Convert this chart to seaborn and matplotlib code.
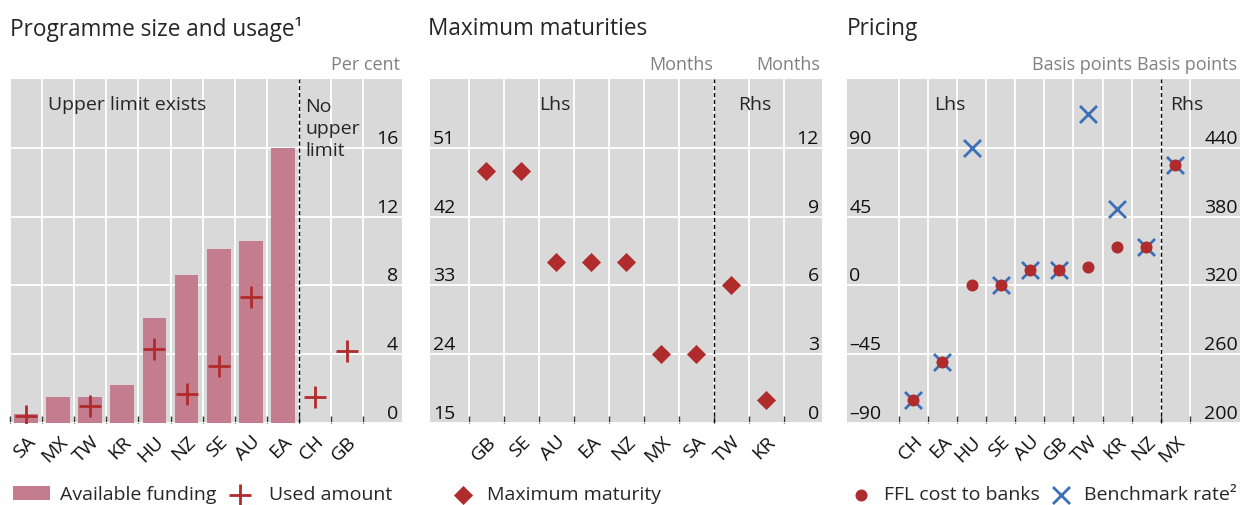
import numpy as np
import pandas as pd
import matplotlib.pyplot as plt
import seaborn as sns

# Programme size and usage, per cent
size_countries = ["SA", "MX", "TW", "KR", "HU", "NZ", "SE", "AU", "EA", "CH", "GB"]
available_funding = [0.5, 1.5, 1.5, 2.2, 6.1, 8.6, 10.1, 10.6, 16.0, np.nan, np.nan]
used_amount = [0.4, np.nan, 1.0, np.nan, 4.3, 1.7, 3.3, 7.3, np.nan, 1.5, 4.2]

# Maximum maturities, months (TW and KR on the right-hand scale)
maturity_countries = ["GB", "SE", "AU", "EA", "NZ", "MX", "SA", "TW", "KR"]
maturity_lhs = [48, 48, 36, 36, 36, 24, 24, np.nan, np.nan]
maturity_rhs = [np.nan, np.nan, np.nan, np.nan, np.nan, np.nan, np.nan, 6, 1]

# Pricing, basis points (MX on the right-hand scale)
pricing_countries = ["CH", "EA", "HU", "SE", "AU", "GB", "TW", "KR", "NZ", "MX"]
ffl_cost_lhs = [-75, -50, 0, 0, 10, 10, 12, 25, 25, np.nan]
benchmark_lhs = [-75, -50, 90, 0, 10, 10, 112, 50, 25, np.nan]
ffl_cost_rhs = [np.nan, np.nan, np.nan, np.nan, np.nan, np.nan, np.nan, np.nan, np.nan, 425]
benchmark_rhs = [np.nan, np.nan, np.nan, np.nan, np.nan, np.nan, np.nan, np.nan, np.nan, 425]

size_ticks = [0, 4, 8, 12, 16]
maturity_lhs_ticks = [15, 24, 33, 42, 51]
maturity_rhs_ticks = [0, 3, 6, 9, 12]
pricing_lhs_ticks = [-90, -45, 0, 45, 90]
pricing_rhs_ticks = [200, 260, 320, 380, 440]

BAR = "#c47d8e"
RED = "#b02c2c"
BLUE = "#3c6fb6"
GREY_BG = "#d9d9d9"
UNIT = "#808080"
FS = 14
TITLE_FS = 16.3
TITLE_Y = 1.145
LEG_Y = -0.209

sns.set_theme(style="darkgrid", rc={"axes.facecolor": GREY_BG})
plt.rcParams["font.family"] = ["Open Sans", "DejaVu Sans"]

fig = plt.figure(figsize=(12.52, 5.05), dpi=100)
H = 344 / 505
B = 1 - 423 / 505
ax1 = fig.add_axes([10 / 1252, B, 392 / 1252, H])
ax2 = fig.add_axes([430 / 1252, B, 392 / 1252, H])
ax3 = fig.add_axes([847 / 1252, B, 393 / 1252, H])


def style_axis(ax, names, xlim, ylim, yticks):
    n = len(names)
    ax.set_xlim(*xlim)
    ax.set_ylim(*ylim)
    ax.grid(False)
    ax.set_xticks(range(n))
    ax.set_xticklabels(names, rotation=45, ha="right", rotation_mode="anchor",
                       fontsize=FS, color="#111111")
    ax.set_xticks(np.arange(-0.5, n), minor=True)
    ax.set_yticks(yticks)
    ax.tick_params(axis="x", which="major", length=0, pad=7)
    ax.tick_params(axis="x", which="minor", direction="in", length=5,
                   width=1, color="#333333", bottom=True)
    ax.tick_params(axis="y", length=0, labelleft=False)
    ax.grid(True, which="minor", axis="x", color="white", lw=1.3)
    ax.grid(True, which="major", axis="y", color="white", lw=1.3)
    ax.set_xlabel("")
    ax.set_ylabel("")
    for s in ax.spines.values():
        s.set_visible(False)


def tick_texts(ax, values, x, ha):
    tr = ax.get_yaxis_transform()
    for v in values:
        lab = str(v).replace("-", "\u2013")
        ax.text(x, v, lab, transform=tr, ha=ha, va="bottom", fontsize=FS,
                color="#111111")


def clean_twin(ax, ylim):
    ax.set_ylim(*ylim)
    ax.grid(False)
    ax.set_yticks([])
    ax.set_ylabel("")
    for s in ax.spines.values():
        s.set_visible(False)


# ---- Panel 1
pos1 = np.arange(len(size_countries))
df1 = pd.DataFrame({"x": pos1, "available": available_funding, "used": used_amount})
bars = df1.dropna(subset=["available"])
sns.barplot(data=bars, x="x", y="available", native_scale=True, color=BAR,
            saturation=1, width=0.74, errorbar=None, label="Available funding",
            linewidth=0, edgecolor=BAR, ax=ax1, zorder=2)
sns.scatterplot(data=df1, x="x", y="used", marker="+", s=260, color=RED,
                linewidth=2, label="Used amount", ax=ax1, zorder=3)
style_axis(ax1, size_countries, (-0.5, 11.71), (0, 20), size_ticks)
ax1.axvline(8.5, color="black", ls=(0, (3, 2)), lw=1, zorder=4)
tick_texts(ax1, size_ticks, 0.99, "right")
ax1.text(0.097, 0.924, "Upper limit exists", transform=ax1.transAxes,
         fontsize=FS, va="center")
ax1.text(0.753, 0.946, "No\nupper\nlimit", transform=ax1.transAxes,
         fontsize=FS, va="top", linespacing=1.3)
ax1.text(0.995, 1.015, "Per cent", transform=ax1.transAxes, ha="right",
         va="bottom", fontsize=13, color=UNIT)
ax1.text(0, TITLE_Y, "Programme size and usage\u00b9", transform=ax1.transAxes,
         fontsize=TITLE_FS, va="center", ha="left")
h, l = ax1.get_legend_handles_labels()
order = [l.index("Available funding"), l.index("Used amount")]
ax1.legend([h[i] for i in order], [l[i] for i in order], loc="center left",
           bbox_to_anchor=(0.008, LEG_Y), ncol=2, frameon=False, fontsize=FS,
           handlelength=1.9, handletextpad=0.5, columnspacing=0.3,
           borderpad=0, borderaxespad=0)

# ---- Panel 2
pos2 = np.arange(len(maturity_countries))
df2 = pd.DataFrame({"x": pos2, "lhs": maturity_lhs, "rhs": maturity_rhs})
ax2r = ax2.twinx()
sns.scatterplot(data=df2, x="x", y="lhs", marker="D", s=95, color=RED,
                edgecolor=RED, linewidth=0, label="Maximum maturity", ax=ax2,
                zorder=3)
sns.scatterplot(data=df2, x="x", y="rhs", marker="D", s=95, color=RED,
                edgecolor=RED, linewidth=0, legend=False, ax=ax2r, zorder=3)
style_axis(ax2, maturity_countries, (-1.61, 9.6), (15, 60), maturity_lhs_ticks)
clean_twin(ax2r, (0, 15))
ax2.axvline(6.5, color="black", ls=(0, (3, 2)), lw=1, zorder=4)
tick_texts(ax2, maturity_lhs_ticks, 0.008, "left")
tick_texts(ax2r, maturity_rhs_ticks, 0.992, "right")
ax2.text(0.319, 0.924, "Lhs", transform=ax2.transAxes, fontsize=FS,
         ha="center", va="center")
ax2.text(0.829, 0.924, "Rhs", transform=ax2.transAxes, fontsize=FS,
         ha="center", va="center")
ax2.text(6.5, 1.015, "Months", transform=ax2.get_xaxis_transform(),
         ha="right", va="bottom", fontsize=13, color=UNIT)
ax2.text(0.995, 1.015, "Months", transform=ax2.transAxes, ha="right",
         va="bottom", fontsize=13, color=UNIT)
ax2.text(-0.005, TITLE_Y, "Maximum maturities", transform=ax2.transAxes,
         fontsize=TITLE_FS, va="center", ha="left")
ax2.legend(loc="center left", bbox_to_anchor=(0.059, LEG_Y), frameon=False,
           fontsize=FS, handlelength=1.0, handletextpad=0.75, borderpad=0,
           borderaxespad=0)

# ---- Panel 3
pos3 = np.arange(len(pricing_countries))
df3 = pd.DataFrame({"x": pos3, "ffl": ffl_cost_lhs, "bench": benchmark_lhs,
                    "ffl_r": ffl_cost_rhs, "bench_r": benchmark_rhs})
ax3r = ax3.twinx()
sns.scatterplot(data=df3, x="x", y="bench", marker="x", s=150, color=BLUE,
                linewidth=2, label="Benchmark rate\u00b2", ax=ax3, zorder=3)
sns.scatterplot(data=df3, x="x", y="ffl", marker="o", s=75, color=RED,
                edgecolor=RED, linewidth=0, label="FFL cost to banks", ax=ax3,
                zorder=4)
sns.scatterplot(data=df3, x="x", y="bench_r", marker="x", s=150, color=BLUE,
                linewidth=2, legend=False, ax=ax3r, zorder=3)
sns.scatterplot(data=df3, x="x", y="ffl_r", marker="o", s=75, color=RED,
                edgecolor=RED, linewidth=0, legend=False, ax=ax3r, zorder=4)
style_axis(ax3, pricing_countries, (-2.28, 11.22), (-90, 135), pricing_lhs_ticks)
clean_twin(ax3r, (200, 500))
ax3.axvline(8.5, color="black", ls=(0, (3, 2)), lw=1, zorder=4)
tick_texts(ax3, pricing_lhs_ticks, 0.006, "left")
tick_texts(ax3r, pricing_rhs_ticks, 0.995, "right")
ax3.text(0.262, 0.924, "Lhs", transform=ax3.transAxes, fontsize=FS,
         ha="center", va="center")
ax3.text(0.865, 0.924, "Rhs", transform=ax3.transAxes, fontsize=FS,
         ha="center", va="center")
ax3.text(7.5, 1.015, "Basis points", transform=ax3.get_xaxis_transform(),
         ha="right", va="bottom", fontsize=13, color=UNIT)
ax3.text(0.992, 1.015, "Basis points", transform=ax3.transAxes, ha="right",
         va="bottom", fontsize=13, color=UNIT)
ax3.text(0, TITLE_Y, "Pricing", transform=ax3.transAxes, fontsize=TITLE_FS,
         va="center", ha="left")
h, l = ax3.get_legend_handles_labels()
ax3.legend(h[::-1], l[::-1], loc="center left", bbox_to_anchor=(0.01, LEG_Y),
           ncol=2, frameon=False, fontsize=FS, handlelength=1.0,
           handletextpad=0.7, columnspacing=0.6, borderpad=0, borderaxespad=0)

fig.savefig("out.png", dpi=100)
